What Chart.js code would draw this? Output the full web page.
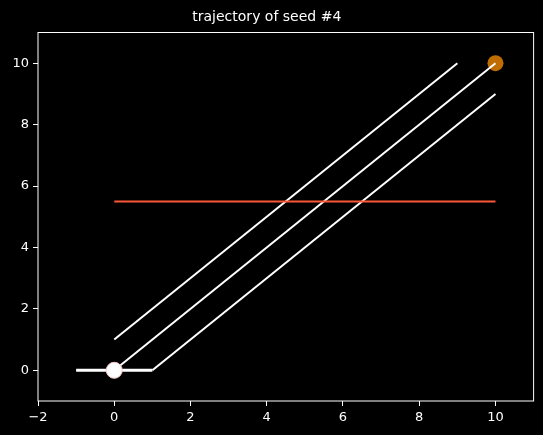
<!DOCTYPE html>
<html>
<head>
<meta charset="utf-8">
<script src="https://cdn.jsdelivr.net/npm/chart.js@4.4.1/dist/chart.umd.min.js"></script>
<style>
    html, body { margin: 0; padding: 0; background: #000; }
    #wrap { width: 543px; height: 435px; }
</style>
</head>
<body>
<div id="wrap"><canvas id="myChart" width="543" height="435"></canvas></div>
<script>
// datos de las trayectorias
const upperLine = [{ x: 0, y: 1 }, { x: 9, y: 10 }];
const middleLine = [{ x: 0, y: 0 }, { x: 10, y: 10 }];
const lowerLine = [{ x: 1, y: 0 }, { x: 10, y: 9 }];
const seedSegment = [{ x: -1, y: 0 }, { x: 1, y: 0 }];
const redLine = [{ x: 0, y: 5.5 }, { x: 10, y: 5.5 }];
const startPoint = [{ x: 0, y: 0 }];
const endPoint = [{ x: 10, y: 10 }];

const xTicks = [-2, 0, 2, 4, 6, 8, 10];
const yTicks = [0, 2, 4, 6, 8, 10];

// marco blanco alrededor del area del grafico
const frame = {
    id: 'frame',
    afterDatasetsDraw(chart) {
        const a = chart.chartArea;
        const c = chart.ctx;
        c.save();
        c.strokeStyle = '#ffffff';
        c.lineWidth = 1;
        c.strokeRect(a.left, a.top, a.right - a.left, a.bottom - a.top);
        c.restore();
    }
};

const bg = {
    id: 'bg',
    beforeDraw(chart) {
        const c = chart.ctx;
        c.save();
        c.fillStyle = '#000000';
        c.fillRect(0, 0, chart.width, chart.height);
        c.restore();
    }
};

function line(data, color, width, order) {
    return {
        data: data,
        showLine: true,
        borderColor: color,
        borderWidth: width,
        pointRadius: 0,
        fill: false,
        order: order
    };
}

// signo menos como en matplotlib
const fmt = (v) => (v < 0 ? '\u2212' + Math.abs(v) : String(v));

const ctx = document.getElementById('myChart').getContext('2d');
const myChart = new Chart(ctx, {
    type: 'scatter',
    data: {
        datasets: [
            {
                data: startPoint,
                pointRadius: 8,
                pointBackgroundColor: '#ffffff',
                pointBorderColor: '#ffc8c8',
                pointBorderWidth: 1,
                order: 0
            },
            line(redLine, '#fa5736', 2, 1),
            line(seedSegment, '#ffffff', 3, 2),
            line(upperLine, '#ffffff', 2, 3),
            line(middleLine, '#ffffff', 2, 3),
            line(lowerLine, '#ffffff', 2, 3),
            {
                data: endPoint,
                pointRadius: 8,
                pointBackgroundColor: '#bf6c00',
                pointBorderColor: '#bf6c00',
                pointBorderWidth: 0,
                order: 9
            }
        ]
    },
    options: {
        responsive: false,
        animation: false,
        layout: { padding: { left: 0, right: 9.4, top: 0, bottom: 0 } },
        plugins: {
            legend: { display: false },
            tooltip: { enabled: false },
            title: {
                display: true,
                text: 'trajectory of seed #4',
                color: '#ffffff',
                font: { family: 'DejaVu Sans', size: 14, weight: 'normal' },
                padding: { top: 9, bottom: 6.7 }
            }
        },
        scales: {
            x: {
                type: 'linear',
                min: -2,
                max: 11,
                afterBuildTicks: (s) => { s.ticks = xTicks.map(v => ({ value: v })); },
                afterFit: (s) => { s.height = 34; },
                grid: { display: true, drawOnChartArea: false, drawTicks: true, tickLength: 5, color: '#ffffff' },
                border: { display: false },
                ticks: { color: '#ffffff', padding: 4, maxRotation: 0, callback: fmt, font: { family: 'DejaVu Sans', size: 13 } }
            },
            y: {
                type: 'linear',
                min: -1,
                max: 11,
                afterBuildTicks: (s) => { s.ticks = yTicks.map(v => ({ value: v })); },
                afterFit: (s) => { s.width = 38; },
                grid: { display: true, drawOnChartArea: false, drawTicks: true, tickLength: 5, color: '#ffffff' },
                border: { display: false },
                ticks: { color: '#ffffff', padding: 4, callback: fmt, font: { family: 'DejaVu Sans', size: 13 } }
            }
        }
    },
    plugins: [bg, frame]
});
</script>
</body>
</html>
